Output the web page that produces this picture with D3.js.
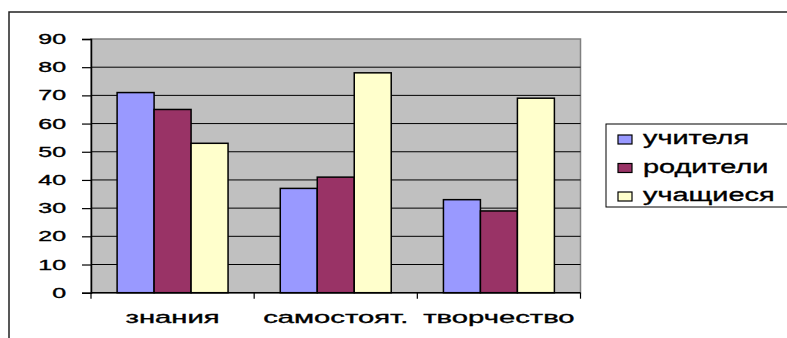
<!DOCTYPE html>
<html>
<head>
<meta charset="utf-8">
<script src="https://cdn.jsdelivr.net/npm/d3@7/dist/d3.min.js"></script>
<style>
  html, body { margin: 0; padding: 0; background: #fff; }
  svg { display: block; font-family: "Liberation Sans", Arial, sans-serif; }
  text { stroke: #000; stroke-width: 0.35px; }
</style>
</head>
<body>
<svg id="chart" width="787" height="338"></svg>
<script>
// Survey results by category
const categories = ["знания", "самостоят.", "творчество"];
const seriesNames = ["учителя", "родители", "учащиеся"];
const teachers = [71, 37, 33];
const parents  = [65, 41, 29];
const students = [53, 78, 69];
const yTicks = [0, 10, 20, 30, 40, 50, 60, 70, 80, 90];
const seriesColors = ["#9999FF", "#993366", "#FFFFCC"];

const seriesValues = [teachers, parents, students];
const rows = categories.map((c, i) => ({
  category: c,
  values: seriesNames.map((s, j) => ({ series: s, value: seriesValues[j][i], color: seriesColors[j] }))
}));

const svg = d3.select("#chart");

// outer chart frame (runs off the right and bottom edges)
svg.append("rect")
  .attr("x", 9).attr("y", 12)
  .attr("width", 800).attr("height", 340)
  .attr("fill", "#fff").attr("stroke", "#222").attr("stroke-width", 1.5);

const plot = { left: 91, right: 580.5, top: 39, bottom: 292.7 };

const y = d3.scaleLinear().domain([0, 90]).range([plot.bottom, plot.top]);
const x0 = d3.scaleBand().domain(categories)
  .range([plot.left, plot.right]).paddingInner(0.32).paddingOuter(0.16);
const x1 = d3.scaleBand().domain(seriesNames).range([0, x0.bandwidth()]);

// plot area background
svg.append("rect")
  .attr("x", plot.left).attr("y", plot.top)
  .attr("width", plot.right - plot.left).attr("height", plot.bottom - plot.top)
  .attr("fill", "#C0C0C0").attr("stroke", "#808080").attr("stroke-width", 1.5);

// horizontal gridlines
svg.append("g").selectAll("line")
  .data(yTicks.filter(t => t > 0 && t < 90))
  .join("line")
  .attr("x1", plot.left).attr("x2", plot.right)
  .attr("y1", d => y(d)).attr("y2", d => y(d))
  .attr("stroke", "#000").attr("stroke-width", 1);

// bars
const groups = svg.append("g").selectAll("g")
  .data(rows).join("g")
  .attr("transform", d => `translate(${x0(d.category)},0)`);
groups.selectAll("rect")
  .data(d => d.values).join("rect")
  .attr("x", d => x1(d.series))
  .attr("y", d => y(d.value))
  .attr("width", x1.bandwidth())
  .attr("height", d => y(0) - y(d.value))
  .attr("fill", d => d.color)
  .attr("stroke", "#000").attr("stroke-width", 1.5);

// y axis
const yAxis = svg.append("g")
  .attr("transform", `translate(${plot.left},0)`)
  .call(d3.axisLeft(y).tickValues(yTicks).tickSize(9).tickFormat(""));
yAxis.select(".domain").attr("stroke", "#000").attr("stroke-width", 1.5);
yAxis.selectAll(".tick line").attr("stroke", "#000").attr("stroke-width", 1.2);

// y tick labels (wide lettering)
svg.append("g").selectAll("text")
  .data(yTicks).join("text")
  .attr("transform", d => `translate(66,${y(d) + 5}) scale(1.78,1)`)
  .attr("text-anchor", "end")
  .attr("font-size", 14)
  .attr("fill", "#000")
  .text(d => d);

// x axis with ticks at category boundaries
const step = x0.step();
const boundaries = d3.range(categories.length + 1).map(i => plot.left + i * step);
svg.append("line")
  .attr("x1", plot.left).attr("x2", plot.right)
  .attr("y1", plot.bottom).attr("y2", plot.bottom)
  .attr("stroke", "#000").attr("stroke-width", 1.5);
svg.append("g").selectAll("line")
  .data(boundaries).join("line")
  .attr("x1", d => d).attr("x2", d => d)
  .attr("y1", plot.bottom).attr("y2", plot.bottom + 6)
  .attr("stroke", "#000").attr("stroke-width", 1.2);

svg.append("g").selectAll("text")
  .data(categories).join("text")
  .attr("transform", d => `translate(${x0(d) + x0.bandwidth() / 2},322.7) scale(1.72,1)`)
  .attr("text-anchor", "middle")
  .attr("font-size", 17)
  .attr("fill", "#000")
  .text(d => d);

// legend
const legend = svg.append("g");
legend.append("rect")
  .attr("x", 606).attr("y", 124)
  .attr("width", 200).attr("height", 83)
  .attr("fill", "#fff").attr("stroke", "#000").attr("stroke-width", 1);
const items = legend.selectAll("g.item")
  .data(seriesNames.map((s, i) => ({ name: s, color: seriesColors[i] })))
  .join("g").attr("class", "item")
  .attr("transform", (d, i) => `translate(0,${139.5 + i * 28.5})`);
items.append("rect")
  .attr("x", 618).attr("y", -4.5)
  .attr("width", 14).attr("height", 9)
  .attr("fill", d => d.color)
  .attr("stroke", "#000").attr("stroke-width", 1.2);
items.append("text")
  .attr("transform", "translate(643,4.5) scale(1.52,1)")
  .attr("font-size", 19)
  .attr("fill", "#000")
  .text(d => d.name);
</script>
</body>
</html>
